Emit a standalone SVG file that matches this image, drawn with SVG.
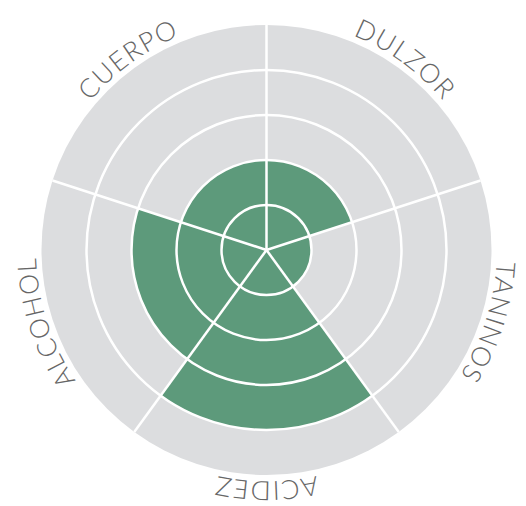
<svg xmlns="http://www.w3.org/2000/svg" width="526" height="506" viewBox="0 0 526 506">
<style>
.bg{fill:#dcdddf}
.val{fill:#5d9a7b}
.grid{fill:none;stroke:#ffffff;stroke-width:2.5}
.lbl{font-family:"Lato","Open Sans","Liberation Sans",sans-serif;font-weight:300;font-size:26.5px;letter-spacing:1.3px;fill:#666666}
</style>
<defs>
<path id="ring" d="M 47.76 178.93 A 230 230 0 1 1 485.24 321.07 A 230 230 0 1 1 47.76 178.93"/>
</defs>
<rect width="526" height="506" fill="#ffffff"/>
<g id="dulzor">
<path class="bg" d="M266.5 250 L266.5 25 A225 225 0 0 1 480.49 180.47 Z"/>
<path class="val" d="M266.5 250 L266.5 160 A90 90 0 0 1 352.10 222.19 Z"/>
<text class="lbl" text-anchor="middle"><textPath href="#ring" startOffset="30%">DULZOR</textPath></text>
</g>
<g id="taninos">
<path class="bg" d="M266.5 250 L480.49 180.47 A225 225 0 0 1 398.75 432.03 Z"/>
<path class="val" d="M266.5 250 L309.30 236.09 A45 45 0 0 1 292.95 286.41 Z"/>
<text class="lbl" text-anchor="middle"><textPath href="#ring" startOffset="50%">TANINOS</textPath></text>
</g>
<g id="acidez">
<path class="bg" d="M266.5 250 L398.75 432.03 A225 225 0 0 1 134.25 432.03 Z"/>
<path class="val" d="M266.5 250 L372.30 395.62 A180 180 0 0 1 160.70 395.62 Z"/>
<text class="lbl" text-anchor="middle"><textPath href="#ring" startOffset="70%">ACIDEZ</textPath></text>
</g>
<g id="alcohol">
<path class="bg" d="M266.5 250 L134.25 432.03 A225 225 0 0 1 52.51 180.47 Z"/>
<path class="val" d="M266.5 250 L187.15 359.22 A135 135 0 0 1 138.11 208.28 Z"/>
<text class="lbl" text-anchor="middle"><textPath href="#ring" startOffset="90%">ALCOHOL</textPath></text>
</g>
<g id="cuerpo">
<path class="bg" d="M266.5 250 L52.51 180.47 A225 225 0 0 1 266.5 25 Z"/>
<path class="val" d="M266.5 250 L180.90 222.19 A90 90 0 0 1 266.5 160 Z"/>
<text class="lbl" text-anchor="middle"><textPath href="#ring" startOffset="10%">CUERPO</textPath></text>
</g>
<g id="connectors" class="grid">
<circle cx="266.5" cy="250" r="45"/>
<circle cx="266.5" cy="250" r="90"/>
<circle cx="266.5" cy="250" r="135"/>
<circle cx="266.5" cy="250" r="180"/>
<line x1="266.5" y1="250" x2="266.5" y2="25"/>
<line x1="266.5" y1="250" x2="480.49" y2="180.47"/>
<line x1="266.5" y1="250" x2="398.75" y2="432.03"/>
<line x1="266.5" y1="250" x2="134.25" y2="432.03"/>
<line x1="266.5" y1="250" x2="52.51" y2="180.47"/>
</g>
</svg>
